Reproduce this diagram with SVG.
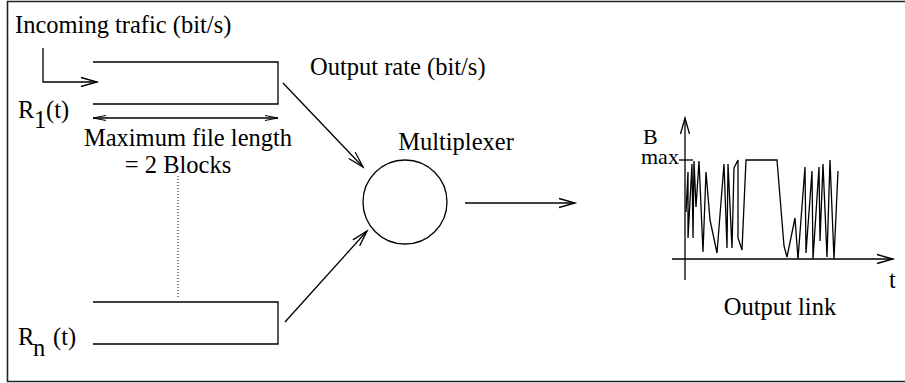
<svg xmlns="http://www.w3.org/2000/svg" width="905" height="383" viewBox="0 0 905 383">
  <defs>
    <style>
      .ln { fill: none; stroke: #000; stroke-width: 1.3; }
      .frame { fill: none; stroke: #222; stroke-width: 1.6; }
      .lbl { font-family: "Liberation Serif", "Times New Roman", serif; font-size: 24.5px; fill: #000; }
      .axl { font-family: "Liberation Serif", "Times New Roman", serif; font-size: 22px; fill: #000; }
      .dot { fill: none; stroke: #000; stroke-width: 1; stroke-dasharray: 1 2; }
    </style>
    <marker id="open" markerUnits="userSpaceOnUse" markerWidth="20" markerHeight="12" refX="16" refY="5" orient="auto" overflow="visible">
      <path d="M0,0.5 L16,5 L0,9.5" fill="none" stroke="#000" stroke-width="1.3"/>
    </marker>
    <marker id="small" markerUnits="userSpaceOnUse" markerWidth="14" markerHeight="8" refX="13" refY="3" orient="auto-start-reverse" overflow="visible">
      <path d="M0,0.5 L13,3 L0,5.5" fill="none" stroke="#000" stroke-width="1"/>
    </marker>
  </defs>

  <!-- outer frame (open on the right) -->
  <path class="frame" d="M905,1.5 H7.5 V381.5 H905"/>

  <!-- first input queue -->
  <g id="queue1">
    <text class="lbl" x="15" y="33">Incoming trafic (bit/s)</text>
    <path class="ln" d="M93,62 H278 V104 H93"/>
    <text class="lbl" x="18" y="118">R</text>
    <text class="lbl" x="34" y="128">1</text>
    <text class="lbl" x="46" y="118">(t)</text>
    <text class="lbl" x="188" y="146" text-anchor="middle">Maximum file length</text>
    <text class="lbl" x="178" y="173" text-anchor="middle">= 2 Blocks</text>
  </g>

  <!-- last input queue -->
  <g id="queueN">
    <path class="ln" d="M93,302 H278 V344 H93"/>
    <text class="lbl" x="18" y="345">R</text>
    <text class="lbl" x="33" y="356">n</text>
    <text class="lbl" x="53" y="345">(t)</text>
  </g>

  <!-- multiplexer -->
  <g id="multiplexer">
    <circle class="ln" cx="405" cy="202" r="42"/>
    <text class="lbl" x="456" y="150" text-anchor="middle">Multiplexer</text>
    <text class="lbl" x="310" y="75">Output rate (bit/s)</text>
  </g>

  <!-- output link occupancy plot -->
  <g id="outputLink">
    <path class="ln" d="M685,280 V118" marker-end="url(#open)"/>
    <path class="ln" d="M672,259 H893" marker-end="url(#open)"/>
    <path class="ln" d="M679,160 H693"/>
    <text class="axl" x="643" y="144">B</text>
    <text class="axl" x="641" y="164">max</text>
    <text class="lbl" x="889" y="288">t</text>
    <polyline class="ln" stroke-width="1.1" points="686,212 688,172 688,238 692,164 693,238 694,161 696,207 699,161 703,252 706,172 710,220 717,253 724,164 727,248 728,164 732,248 734,168 738,160 738,238 742,250 746,160 777,160 784,246 787,257 795,218 798,259 805,167 806,253 812,171 813,259 819,167 820,241 823,164 827,257 830,160 834,259 838,171"/>
    <text class="lbl" x="780" y="315" text-anchor="middle">Output link</text>
  </g>

  <!-- connectors -->
  <g id="connectors">
    <path class="ln" d="M43,48 V82 H97" marker-end="url(#open)"/>
    <path class="ln" stroke-width="1" d="M93,118 H278" marker-start="url(#small)" marker-end="url(#small)"/>
    <path class="dot" d="M178,176 V297"/>
    <path class="ln" d="M283,83 L363,167" marker-end="url(#open)"/>
    <path class="ln" d="M285,322 L367,231" marker-end="url(#open)"/>
    <path class="ln" d="M465,203 H575" marker-end="url(#open)"/>
  </g>
</svg>
